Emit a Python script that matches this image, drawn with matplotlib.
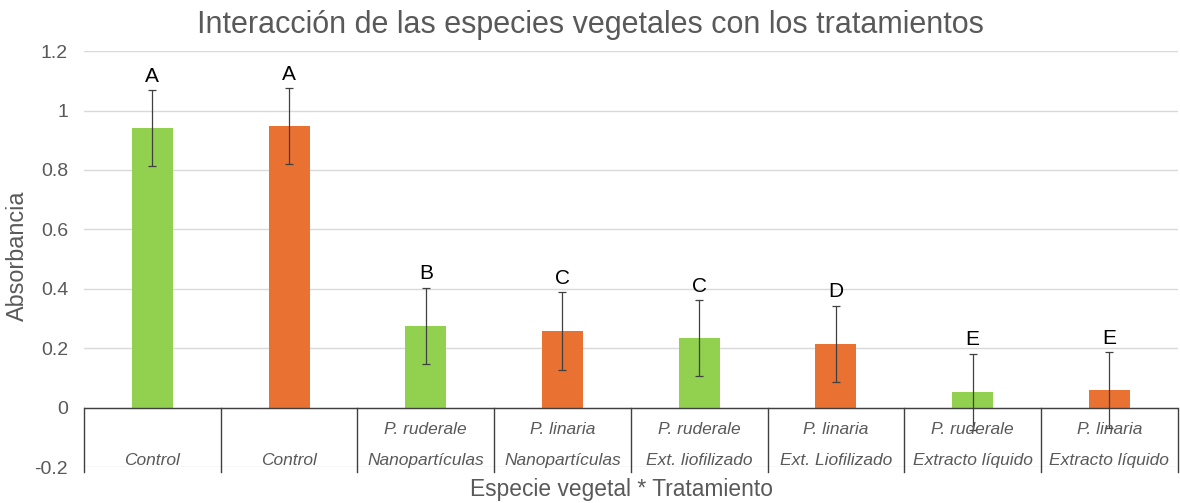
import numpy as np
import matplotlib
matplotlib.use("Agg")
import matplotlib.pyplot as plt

plt.rcParams['font.family'] = ['Liberation Sans', 'DejaVu Sans']

# data
especie = ["", "", "P. ruderale", "P. linaria", "P. ruderale", "P. linaria", "P. ruderale", "P. linaria"]
tratamiento = ["Control", "Control", "Nanopartículas", "Nanopartículas", "Ext. liofilizado",
               "Ext. Liofilizado", "Extracto líquido", "Extracto líquido"]
absorbancia = [0.941, 0.947, 0.276, 0.259, 0.235, 0.215, 0.054, 0.060]
error = [0.128, 0.128, 0.128, 0.130, 0.128, 0.128, 0.128, 0.128]
letras = ["A", "A", "B", "C", "C", "D", "E", "E"]

green = "#92D050"
orange = "#E97132"
colores = [green, orange] * 4
gris = "#595959"

fig = plt.figure(figsize=(11.8, 5.03), dpi=100)
ax = fig.add_axes([0.0712, 0.0706, 0.9268, 0.828])

x = np.arange(len(absorbancia))
ax.bar(x, absorbancia, width=0.3, color=colores, zorder=2)
ax.errorbar(x, absorbancia, yerr=error, fmt="none", ecolor="#404040",
            elinewidth=0.9, capsize=3, capthick=0.9, zorder=3)

for xi, v, e, l in zip(x, absorbancia, error, letras):
    ax.text(xi, v + e + 0.015, l, ha="center", va="bottom", fontsize=15, color="black")

ax.set_xlim(-0.5, 7.5)
ax.set_ylim(-0.2, 1.2)
ax.set_yticks(np.arange(-0.2, 1.21, 0.2))
ax.set_yticklabels(["-0.2", "0", "0.2", "0.4", "0.6", "0.8", "1", "1.2"])
ax.tick_params(axis="y", length=0, labelsize=14, labelcolor=gris, pad=11.5)
ax.set_xticks([])
ax.yaxis.grid(True, color="#D9D9D9", linewidth=1, zorder=0)
ax.set_axisbelow(True)
for s in ax.spines.values():
    s.set_visible(False)

# category table below zero
ax.axhline(0, color="#404040", linewidth=1, zorder=4)
for b in np.arange(-0.5, 8.0, 1.0):
    ax.plot([b, b], [0, -0.215], color="#404040", linewidth=1, clip_on=False, zorder=4)
for xi, esp, tr in zip(x, especie, tratamiento):
    ax.text(xi, -0.073, esp, ha="center", va="center", fontsize=12.5, style="italic", color=gris)
    ax.text(xi, -0.177, tr, ha="center", va="center", fontsize=12.5, style="italic", color=gris)

fig.text(0.0148, 0.492, "Absorbancia", rotation=90, ha="center", va="center",
         fontsize=16.8, color=gris)
fig.text(0.527, 0.026, "Especie vegetal * Tratamiento", ha="center", va="center",
         fontsize=16.4, color=gris)
fig.text(0.5, 0.95, "Interacción de las especies vegetales con los tratamientos",
         ha="center", va="center", fontsize=22, color=gris)

fig.savefig("out.png", dpi=100)
